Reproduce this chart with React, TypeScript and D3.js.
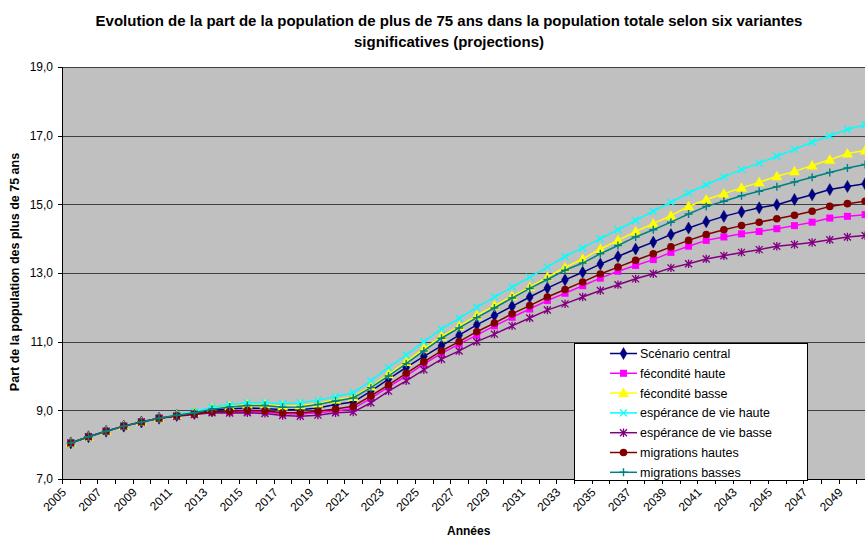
import React from "react";
import * as d3 from "d3";

const years: number[] = d3.range(2005, 2051);
const yTicks = [7, 9, 11, 13, 15, 17, 19];

const base = [8.05, 8.23, 8.39, 8.54, 8.66, 8.77];

const central = [...base, 8.85, 8.91, 9.0, 9.04, 9.07, 9.05, 9.02, 9.02, 9.07, 9.17, 9.24, 9.56, 9.91, 10.25, 10.57, 10.88, 11.19, 11.49, 11.76, 12.03, 12.3, 12.56, 12.8, 13.02, 13.26, 13.48, 13.7, 13.9, 14.12, 14.31, 14.49, 14.65, 14.78, 14.9, 14.99, 15.14, 15.28, 15.43, 15.52, 15.6];
const fecHaute = [...base, 8.84, 8.89, 8.95, 8.95, 8.96, 8.96, 8.9, 8.89, 8.93, 8.98, 9.05, 9.35, 9.68, 10.0, 10.35, 10.66, 10.93, 11.19, 11.46, 11.71, 11.95, 12.2, 12.41, 12.63, 12.85, 13.05, 13.22, 13.39, 13.6, 13.78, 13.95, 14.05, 14.14, 14.21, 14.29, 14.38, 14.48, 14.6, 14.65, 14.7];
const fecBasse = [...base, 8.86, 8.94, 9.05, 9.12, 9.17, 9.17, 9.12, 9.14, 9.2, 9.31, 9.39, 9.69, 10.05, 10.41, 10.8, 11.15, 11.45, 11.76, 12.05, 12.32, 12.59, 12.88, 13.16, 13.41, 13.7, 13.95, 14.21, 14.44, 14.67, 14.94, 15.14, 15.31, 15.48, 15.64, 15.82, 15.96, 16.13, 16.3, 16.48, 16.57];
const espHaute = [...base, 8.87, 8.96, 9.09, 9.16, 9.22, 9.22, 9.19, 9.22, 9.29, 9.4, 9.51, 9.86, 10.25, 10.61, 11.0, 11.37, 11.68, 12.0, 12.3, 12.59, 12.88, 13.17, 13.48, 13.73, 14.0, 14.26, 14.53, 14.8, 15.06, 15.33, 15.57, 15.8, 16.01, 16.2, 16.4, 16.6, 16.81, 17.0, 17.18, 17.32];
const espBasse = [...base, 8.83, 8.88, 8.93, 8.92, 8.93, 8.91, 8.85, 8.83, 8.86, 8.93, 8.95, 9.22, 9.56, 9.86, 10.18, 10.49, 10.73, 11.0, 11.22, 11.46, 11.69, 11.92, 12.1, 12.3, 12.49, 12.66, 12.83, 12.98, 13.15, 13.27, 13.41, 13.5, 13.6, 13.68, 13.78, 13.83, 13.89, 13.97, 14.05, 14.09];
const migHautes = [...base, 8.84, 8.89, 8.96, 8.97, 9.0, 8.99, 8.93, 8.93, 8.97, 9.04, 9.12, 9.42, 9.74, 10.08, 10.41, 10.73, 11.0, 11.29, 11.54, 11.81, 12.05, 12.3, 12.52, 12.74, 12.97, 13.17, 13.37, 13.56, 13.76, 13.95, 14.12, 14.26, 14.38, 14.48, 14.58, 14.68, 14.8, 14.94, 15.02, 15.09];
const migBasses = [...base, 8.86, 8.93, 9.03, 9.1, 9.14, 9.14, 9.09, 9.1, 9.17, 9.27, 9.36, 9.66, 10.0, 10.36, 10.73, 11.1, 11.4, 11.7, 11.98, 12.27, 12.55, 12.81, 13.08, 13.29, 13.56, 13.8, 14.05, 14.26, 14.48, 14.72, 14.94, 15.09, 15.25, 15.38, 15.51, 15.65, 15.79, 15.93, 16.06, 16.16];

type Marker = "diamond" | "square" | "triangle" | "x" | "star" | "circle" | "plus";
const seriesNames = ["Scénario central", "fécondité haute", "fécondité basse", "espérance de vie haute", "espérance de vie basse", "migrations hautes", "migrations basses"];
const seriesValues = [central, fecHaute, fecBasse, espHaute, espBasse, migHautes, migBasses];
const seriesColors = ["#000080", "#FF00FF", "#FFFF00", "#00FFFF", "#800080", "#800000", "#008080"];
const seriesMarkers: Marker[] = ["diamond", "square", "triangle", "x", "star", "circle", "plus"];

const W = 865, H = 538;
const left = 62, top = 67, bottom = 479;
const catW = 17.65;
const right = left + catW * years.length;

const x = d3.scaleBand<number>().domain(years).range([left, right]).padding(0);
const y = d3.scaleLinear().domain([7, 19]).range([bottom, top]);
const cx = (yr: number) => (x(yr) as number) + x.bandwidth() / 2;

function MarkerShape({ type, color, px, py }: { type: Marker; color: string; px: number; py: number }) {
  const t = `translate(${px},${py})`;
  switch (type) {
    case "diamond":
      return <path transform={t} d={d3.symbol(d3.symbolDiamond, 42)()!} fill={color} stroke={color} strokeWidth={0.5} />;
    case "square":
      return <rect x={px - 3.5} y={py - 3.5} width={7} height={7} fill={color} />;
    case "triangle":
      return <path transform={`translate(${px},${py + 0.8})`} d={d3.symbol(d3.symbolTriangle, 52)()!} fill={color} />;
    case "circle":
      return <circle cx={px} cy={py} r={3.8} fill={color} />;
    case "x":
      return (
        <path d={`M${px - 3.5},${py - 3.5}L${px + 3.5},${py + 3.5}M${px - 3.5},${py + 3.5}L${px + 3.5},${py - 3.5}`} stroke={color} strokeWidth={1.3} fill="none" />
      );
    case "star":
      return (
        <path d={`M${px - 3.5},${py - 3.5}L${px + 3.5},${py + 3.5}M${px - 3.5},${py + 3.5}L${px + 3.5},${py - 3.5}M${px},${py - 4.2}L${px},${py + 4.2}`} stroke={color} strokeWidth={1.3} fill="none" />
      );
    case "plus":
      return <path d={`M${px - 4},${py}L${px + 4},${py}M${px},${py - 4}L${px},${py + 4}`} stroke={color} strokeWidth={1.4} fill="none" />;
  }
}

export default function App() {
  const line = d3.line<number>().x((_, i) => cx(years[i])).y((v) => y(v));
  const font = "Arial, 'Liberation Sans', sans-serif";
  const legX = 574, legY = 343, legW = 233, legH = 137, rowH = 19.8;
  return (
    <svg width={W} height={H} style={{ position: "absolute", left: 0, top: 0, background: "#fff" }} fontFamily={font}>
      <rect x={left} y={top} width={right - left} height={bottom - top} fill="#C0C0C0" />
      {yTicks.filter((t) => t > 7).map((t) => (
        <line key={t} x1={left} x2={right} y1={Math.round(y(t)) + 0.5} y2={Math.round(y(t)) + 0.5} stroke="#404040" strokeWidth={1} />
      ))}
      {/* axes */}
      <line x1={left + 0.5} x2={left + 0.5} y1={top} y2={bottom + 0.5} stroke="#000" />
      <line x1={left} x2={right} y1={bottom + 0.5} y2={bottom + 0.5} stroke="#000" />
      {yTicks.map((t) => (
        <g key={t}>
          <line x1={left - 4} x2={left} y1={Math.round(y(t)) + 0.5} y2={Math.round(y(t)) + 0.5} stroke="#000" />
          <text x={53} y={y(t)} dy="0.36em" textAnchor="end" fontSize={12}>
            {t.toFixed(1).replace(".", ",")}
          </text>
        </g>
      ))}
      {years.map((yr) => (
        <line key={yr} x1={Math.round(x(yr) as number) + 0.5} x2={Math.round(x(yr) as number) + 0.5} y1={bottom} y2={bottom + 5} stroke="#000" />
      ))}
      {years.filter((yr) => (yr - 2005) % 2 === 0).map((yr) => (
        <text key={yr} transform={`translate(${cx(yr) - 3.8},${493}) rotate(-45)`} textAnchor="end" fontSize={12}>
          {yr}
        </text>
      ))}
      {/* series */}
      {seriesValues.map((vals, si) => (
        <g key={si}>
          <path d={line(vals)!} fill="none" stroke={seriesColors[si]} strokeWidth={1.5} />
          {vals.map((v, i) => (
            <MarkerShape key={i} type={seriesMarkers[si]} color={seriesColors[si]} px={cx(years[i])} py={y(v)} />
          ))}
        </g>
      ))}
      {/* legend */}
      <rect x={legX + 0.5} y={legY + 0.5} width={legW} height={legH} fill="#fff" stroke="#000" />
      {seriesNames.map((n, i) => {
        const ry = legY + 10.5 + i * rowH;
        return (
          <g key={n}>
            <line x1={610} x2={637} y1={ry} y2={ry} stroke={seriesColors[i]} strokeWidth={1.5} />
            <MarkerShape type={seriesMarkers[i]} color={seriesColors[i]} px={623.5} py={ry} />
            <text x={640} y={ry} dy="0.36em" fontSize={12.5}>
              {n}
            </text>
          </g>
        );
      })}
      {/* titles */}
      <text x={449} y={25.5} textAnchor="middle" fontSize={15} fontWeight="bold">
        Evolution de la part de la population de plus de 75 ans dans la population totale selon six variantes
      </text>
      <text x={449} y={46.5} textAnchor="middle" fontSize={15} fontWeight="bold">
        significatives (projections)
      </text>
      <text transform={`translate(18.5,${272}) rotate(-90)`} textAnchor="middle" fontSize={12.5} fontWeight="bold">
        Part de la population des plus de 75 ans
      </text>
      <text x={447} y={535} fontSize={12} fontWeight="bold">
        Années
      </text>
    </svg>
  );
}
